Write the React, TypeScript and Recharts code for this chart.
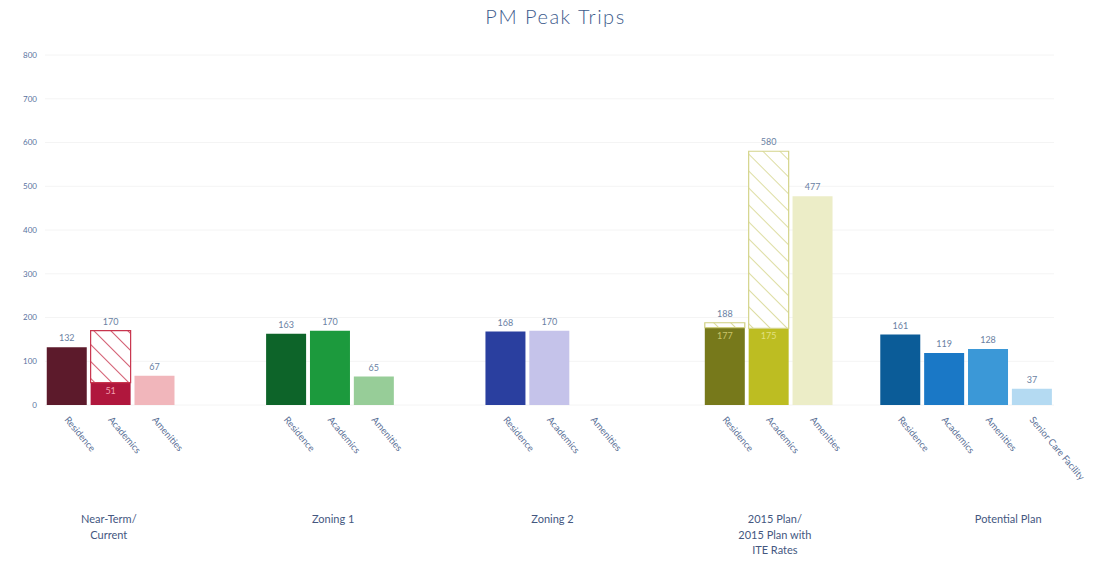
import React from 'react';
import { BarChart, Bar, XAxis, YAxis, CartesianGrid, Cell, LabelList } from 'recharts';

// One slot per bar position; empty strings are gaps between scenario groups
const slotLabels = [
  'Residence', 'Academics', 'Amenities', '', '',
  'Residence', 'Academics', 'Amenities', '', '',
  'Residence', 'Academics', 'Amenities', '', '',
  'Residence', 'Academics', 'Amenities', '',
  'Residence', 'Academics', 'Amenities', 'Senior Care Facility',
];

// Solid (lower) part of each bar
const solidValues = [
  132, 51, 67, null, null,
  163, 170, 65, null, null,
  168, 170, 0, null, null,
  177, 175, 477, null,
  161, 119, 128, 37,
];

// Total height of each bar (hatched part = total - solid)
const totalValues = [
  132, 170, 67, null, null,
  163, 170, 65, null, null,
  168, 170, 0, null, null,
  188, 580, 477, null,
  161, 119, 128, 37,
];

// Labels written inside the solid part of hatched bars
const innerLabels = [
  null, 51, null, null, null,
  null, null, null, null, null,
  null, null, null, null, null,
  177, 175, null, null,
  null, null, null, null,
];

// Scenario labels, placed under the slot given
const groupLabels = [
  '', 'Near-Term/|Current', '', '', '',
  '', 'Zoning 1', '', '', '',
  '', 'Zoning 2', '', '', '',
  '', '2015 Plan/|2015 Plan with|ITE Rates', '', '',
  '', '', 'Potential Plan', '',
];
const groupLabelShift = [
  -2, -2, 0, 0, 0,
  0, 3, 0, 0, 0,
  0, 3, 0, 0, 0,
  0, 6, 0, 0,
  0, 0, 20, 0,
];

const yTicks = [0, 100, 200, 300, 400, 500, 600, 700, 800];

const solidColors = [
  '#5c1a2b', '#b0173d', '#f1b6bb', '#fff', '#fff',
  '#0d6429', '#1c9a3d', '#97cd98', '#fff', '#fff',
  '#2a3f9f', '#c5c3ea', '#fff', '#fff', '#fff',
  '#77791b', '#bdbd22', '#ecedc7', '#fff',
  '#0b5c98', '#1a78c6', '#3b98d7', '#b4daf2',
];
const hatchFills = [
  'none', 'url(#hatchRed)', 'none', 'none', 'none',
  'none', 'none', 'none', 'none', 'none',
  'none', 'none', 'none', 'none', 'none',
  'url(#hatchOlive)', 'url(#hatchOlive)', 'none', 'none',
  'none', 'none', 'none', 'none',
];
const hatchStrokes = [
  'none', '#c8354e', 'none', 'none', 'none',
  'none', 'none', 'none', 'none', 'none',
  'none', 'none', 'none', 'none', 'none',
  '#cfcf80', '#d4d48a', 'none', 'none',
  'none', 'none', 'none', 'none',
];
const innerLabelColors = [
  '', '#f3a0b0', '', '', '',
  '', '', '', '', '',
  '', '', '', '', '',
  '#c9c46a', '#e2e080', '', '',
  '', '', '', '',
];

const data = slotLabels.map((_, i) => {
  const s = solidValues[i];
  const t = totalValues[i];
  const h = s == null || t == null ? null : t - s;
  return {
    slot: i,
    solid: s,
    hatch: h,
    total: t,
    soloTotal: h ? null : t,
    inner: innerLabels[i],
  };
});

const FONT = 'Lato, "Open Sans", sans-serif';

const CatTick = (props: any) => {
  const { x, y, payload } = props;
  const label = slotLabels[payload.value];
  if (!label) return null;
  return (
    <text
      x={x - 3}
      y={y + 7}
      transform={`rotate(50, ${x - 3}, ${y + 7})`}
      textAnchor="start"
      fontSize={9.5}
      fontFamily={FONT}
      fill="#5a6f96"
    >
      {label}
    </text>
  );
};

const GroupTick = (props: any) => {
  const { x, y, payload } = props;
  const label = groupLabels[payload.value];
  if (!label) return null;
  const lines = label.split('|');
  const cx = x + groupLabelShift[payload.value];
  return (
    <text x={cx} y={y} textAnchor="middle" fontSize={11} fontFamily={FONT} fill="#44577f">
      {lines.map((l, k) => (
        <tspan key={k} x={cx} dy={k === 0 ? 10 : 15.5}>
          {l}
        </tspan>
      ))}
    </text>
  );
};

const InnerLabel = (props: any) => {
  const { x, y, width, value } = props;
  if (value == null) return null;
  const idx = innerLabels.indexOf(value);
  return (
    <text x={x + width / 2} y={y + 11} textAnchor="middle" fontSize={9} fontFamily={FONT} fill={innerLabelColors[idx]}>
      {value}
    </text>
  );
};

const TopLabel = (props: any) => {
  const { x, y, width, value } = props;
  if (!value) return null;
  return (
    <text x={x + width / 2} y={y - 6} textAnchor="middle" fontSize={9} fontFamily={FONT} fill="#6a7fa3">
      {value}
    </text>
  );
};

export default function App() {
  return (
    <div style={{ position: 'absolute', left: 0, top: 0, width: 1111, height: 561, background: '#fff' }}>
      <svg width={0} height={0} style={{ position: 'absolute' }}>
        <defs>
          <pattern id="hatchRed" patternUnits="userSpaceOnUse" width={12} height={12} patternTransform="rotate(-45)">
            <rect width={12} height={12} fill="#fff" />
            <line x1={0} y1={0} x2={0} y2={12} stroke="#c8354e" strokeWidth={1.6} />
          </pattern>
          <pattern id="hatchOlive" patternUnits="userSpaceOnUse" width={12} height={12} patternTransform="rotate(-45)">
            <rect width={12} height={12} fill="#fff" />
            <line x1={0} y1={0} x2={0} y2={12} stroke="#cfcf7a" strokeWidth={1.4} />
          </pattern>
        </defs>
      </svg>
      <div
        style={{
          position: 'absolute',
          left: 0,
          top: 4,
          width: 1111,
          textAlign: 'center',
          fontFamily: FONT,
          fontSize: 20,
          fontWeight: 300,
          color: '#3d5b8c',
          letterSpacing: 1.5,
        }}
      >
        PM Peak Trips
      </div>
      <BarChart
        width={1111}
        height={561}
        data={data}
        margin={{ top: 55, right: 57, bottom: 0, left: 5 }}
        barCategoryGap="4%"
      >
        <CartesianGrid vertical={false} stroke="#f4f4f4" xAxisId="cat" />
        <XAxis xAxisId="cat" dataKey="slot" height={100} tick={<CatTick />} tickLine={false} axisLine={false} interval={0} />
        <XAxis xAxisId="grp" dataKey="slot" height={56} tick={<GroupTick />} tickLine={false} axisLine={false} interval={0} />
        <YAxis
          width={40}
          domain={[0, 800]}
          ticks={yTicks}
          axisLine={false}
          tickLine={false}
          tick={{ fontSize: 8, fill: '#5a73a0', fontFamily: FONT }}
        />
        <Bar xAxisId="cat" dataKey="solid" stackId="a" isAnimationActive={false}>
          {data.map((_, i) => (
            <Cell key={i} fill={solidColors[i]} />
          ))}
          <LabelList dataKey="inner" content={<InnerLabel />} />
          <LabelList dataKey="soloTotal" content={<TopLabel />} />
        </Bar>
        <Bar xAxisId="cat" dataKey="hatch" stackId="a" isAnimationActive={false}>
          {data.map((_, i) => (
            <Cell key={i} fill={hatchFills[i]} stroke={hatchStrokes[i]} strokeWidth={1.2} />
          ))}
          <LabelList dataKey="total" content={<TopLabel />} />
        </Bar>
      </BarChart>
    </div>
  );
}
